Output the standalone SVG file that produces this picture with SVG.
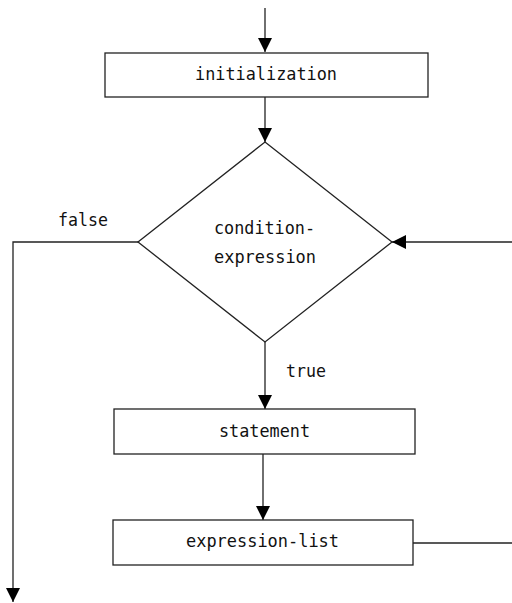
<svg xmlns="http://www.w3.org/2000/svg" width="512" height="603" viewBox="0 0 512 603">
<defs>
<marker id="arr" viewBox="0 0 14 14" refX="14" refY="7" markerWidth="14" markerHeight="14" markerUnits="userSpaceOnUse" orient="auto">
<path d="M0,0 L14,7 L0,14 Z" fill="#000"/>
</marker>
<style>
.box{fill:#fff;stroke:#222;stroke-width:1.3}
.ln{fill:none;stroke:#222;stroke-width:1.3}
.t{font-family:"DejaVu Sans Mono","Liberation Mono",monospace;font-size:18.5px;fill:#111;text-anchor:middle}
.lbl{font-family:"DejaVu Sans Mono","Liberation Mono",monospace;font-size:18.5px;fill:#111}
</style>
</defs>
<rect width="512" height="603" fill="#fff"/>
<g id="connectors">
<line class="ln" x1="265" y1="8" x2="265" y2="52" marker-end="url(#arr)"/>
<line class="ln" x1="265" y1="97" x2="265" y2="142" marker-end="url(#arr)"/>
<polyline class="ln" points="138,242 13,242 13,602" marker-end="url(#arr)"/>
<line class="ln" x1="512" y1="242" x2="392" y2="242" marker-end="url(#arr)"/>
<line class="ln" x1="265" y1="342" x2="265" y2="409" marker-end="url(#arr)"/>
<line class="ln" x1="263" y1="454" x2="263" y2="520" marker-end="url(#arr)"/>
<line class="ln" x1="413" y1="543" x2="512" y2="543"/>
<text class="lbl" x="58" y="226" textLength="50" lengthAdjust="spacingAndGlyphs">false</text>
<text class="lbl" x="286" y="377" textLength="40" lengthAdjust="spacingAndGlyphs">true</text>
</g>
<g id="init">
<rect class="box" x="105" y="53" width="323" height="44"/>
<text class="t" x="266" y="80" textLength="142" lengthAdjust="spacingAndGlyphs">initialization</text>
</g>
<g id="cond">
<polygon class="box" points="265,142 392,242 265,342 138,242"/>
<text class="t" x="264.5" y="234" textLength="101" lengthAdjust="spacingAndGlyphs">condition-</text>
<text class="t" x="265" y="263" textLength="102" lengthAdjust="spacingAndGlyphs">expression</text>
</g>
<g id="stmt">
<rect class="box" x="114" y="409" width="301" height="45"/>
<text class="t" x="264.5" y="437" textLength="91" lengthAdjust="spacingAndGlyphs">statement</text>
</g>
<g id="exprlist">
<rect class="box" x="113" y="520" width="300" height="45"/>
<text class="t" x="262.5" y="547" textLength="153" lengthAdjust="spacingAndGlyphs">expression-list</text>
</g>
</svg>
